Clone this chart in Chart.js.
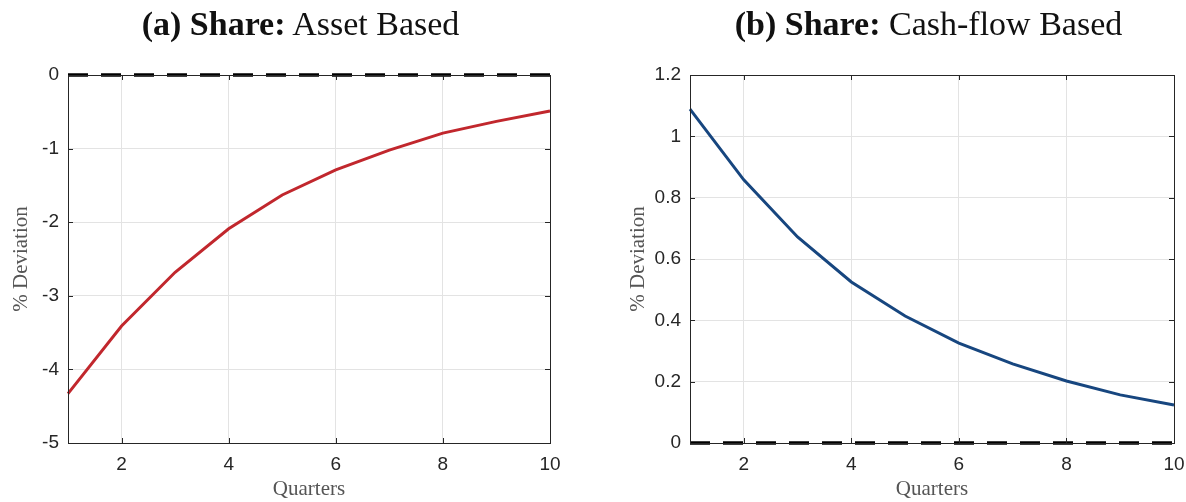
<!DOCTYPE html>
<html>
<head>
<meta charset="utf-8">
<script src="https://cdn.jsdelivr.net/npm/chart.js@4.4.0/dist/chart.umd.min.js"></script>
<style>
  body { margin: 0; background: #fff; width: 1186px; height: 502px; position: relative; overflow: hidden; }
  .panel { position: absolute; top: 0; width: 593px; height: 502px; }
  .ttl { position: absolute; top: 5px; left: 0; width: 593px; text-align: center;
         font-family: 'Liberation Serif', serif; font-size: 34px; color: #111; }
  .ttl b { font-weight: bold; }
</style>
</head>
<body>
<div class="panel" style="left:0"><canvas id="cA" width="593" height="502"></canvas></div>
<div class="panel" style="left:593px"><canvas id="cB" width="593" height="502"></canvas></div>
<div class="ttl" style="left:4px"><b>(a) Share:</b> Asset Based</div>
<div class="ttl" style="left:632px"><b>(b) Share:</b> Cash-flow Based</div>
<script>
// datos
const quarters = [1, 2, 3, 4, 5, 6, 7, 8, 9, 10];
const assetBased = [-4.33, -3.41, -2.68, -2.09, -1.63, -1.29, -1.02, -0.79, -0.63, -0.49];
const cashflowBased = [1.089, 0.858, 0.672, 0.525, 0.414, 0.326, 0.258, 0.202, 0.157, 0.124];
const zeroLine = [0, 0, 0, 0, 0, 0, 0, 0, 0, 0];
const xTicks = [2, 4, 6, 8, 10];
const yTicksA = [-5, -4, -3, -2, -1, 0];
const yTicksB = [0, 0.2, 0.4, 0.6, 0.8, 1, 1.2];

const tickFont = { family: "'Liberation Sans', Arial, sans-serif", size: 19 };
const labelFont = { family: "'Liberation Serif', serif", size: 21 };

// marco completo tipo MATLAB, con marcas hacia dentro
const boxPlugin = {
  id: 'box',
  afterDatasetsDraw(chart) {
    const { ctx, chartArea: a, scales } = chart;
    ctx.save();
    ctx.strokeStyle = '#262626';
    ctx.lineWidth = 1;
    ctx.strokeRect(a.left + 0.5, a.top + 0.5, a.right - a.left, a.bottom - a.top);
    ctx.beginPath();
    scales.x.ticks.forEach(t => {
      const px = Math.round(scales.x.getPixelForValue(t.value)) + 0.5;
      ctx.moveTo(px, a.bottom); ctx.lineTo(px, a.bottom - 5);
      ctx.moveTo(px, a.top); ctx.lineTo(px, a.top + 5);
    });
    scales.y.ticks.forEach(t => {
      const py = Math.round(scales.y.getPixelForValue(t.value)) + 0.5;
      ctx.moveTo(a.left, py); ctx.lineTo(a.left + 5, py);
      ctx.moveTo(a.right, py); ctx.lineTo(a.right - 5, py);
    });
    ctx.stroke();
    ctx.restore();
  }
};

function makeChart(id, values, color, yTicks, yMin, yMax, padLeft, yWidth, padRight) {
  const pts = quarters.map((q, i) => ({ x: q, y: values[i] }));
  const zero = quarters.map((q, i) => ({ x: q, y: zeroLine[i] }));
  return new Chart(document.getElementById(id), {
    type: 'line',
    data: {
      datasets: [
        { data: zero, borderColor: '#000', borderWidth: 3.5, borderDash: [20, 13], pointRadius: 0, clip: false },
        { data: pts, borderColor: color, borderWidth: 3, pointRadius: 0, tension: 0, clip: false }
      ]
    },
    options: {
      responsive: false,
      animation: false,
      layout: { padding: { top: 75, left: padLeft, right: padRight, bottom: 0 } },
      plugins: { legend: { display: false }, tooltip: { enabled: false } },
      scales: {
        x: {
          type: 'linear', min: 1, max: 10,
          afterBuildTicks: s => { s.ticks = xTicks.map(v => ({ value: v })); },
          afterFit: s => { s.height = 59; s.paddingRight = 0; s.paddingLeft = 0; },
          grid: { color: '#e3e3e3', drawTicks: false },
          border: { color: '#262626' },
          ticks: { font: tickFont, color: '#262626', padding: 10 },
          title: { display: true, text: 'Quarters', font: labelFont, color: '#555', padding: { top: 0, bottom: 0 } }
        },
        y: {
          min: yMin, max: yMax,
          afterBuildTicks: s => { s.ticks = yTicks.map(v => ({ value: v })); },
          afterFit: s => { s.width = yWidth; },
          grid: { color: '#e3e3e3', drawTicks: false },
          border: { color: '#262626' },
          ticks: { font: tickFont, color: '#262626', padding: 9, callback: v => String(Math.round(v * 10) / 10) },
          title: { display: true, text: '% Deviation', font: labelFont, color: '#555', padding: { top: 9, bottom: 0 } }
        }
      }
    },
    plugins: [boxPlugin]
  });
}

makeChart('cA', assetBased, '#c1272d', yTicksA, -5, 0, 0, 68, 43);
makeChart('cB', cashflowBased, '#17467f', yTicksB, 0, 1.2, 24, 73, 12);
</script>
</body>
</html>
